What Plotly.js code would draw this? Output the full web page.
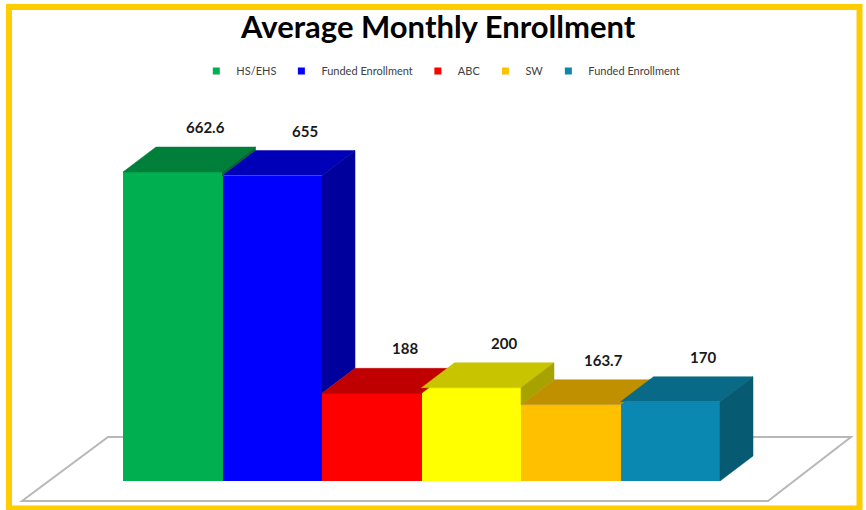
<!DOCTYPE html>
<html>
<head>
<meta charset="utf-8">
<script src="https://cdn.plot.ly/plotly-3.0.1.min.js"></script>
<style>
  html, body { margin: 0; padding: 0; background: #ffffff; }
  #chart { width: 866px; height: 510px; }
</style>
</head>
<body>
<div id="chart"></div>
<script>
// ---- data ----
const seriesNames = ['HS/EHS', 'Funded Enrollment', 'ABC', 'Funded Enrollment', 'SW', 'Funded Enrollment'];
const values = [662.6, 655, 188, 200, 163.7, 170];
const valueLabels = ['662.6', '655', '188', '200', '163.7', '170'];
const inLegend = [true, true, true, false, true, true];

// ---- styles ----
const frontColors = ['#00B050', '#0000FF', '#FF0000', '#FFFF00', '#FFC000', '#0B88B2'];
const topColors   = ['#007F3A', '#0000B8', '#C00000', '#C8C400', '#C09000', '#086A86'];
const sideColors  = ['#006A30', '#00009C', '#A00000', '#A8A200', '#A07800', '#065A72'];
const legendColors = ['#00B050', '#0000FF', '#FF0000', '#FFC000', '#FFC000', '#0B88B2'];

const W = 866, H = 510;
const PX0 = 123, BW = 99.5, BASE = 481, K = 0.4663, DXP = 33, DYP = 25;
const xmin = -0.5 - PX0 / BW, xmax = xmin + W / BW;
const ymin = -(H - BASE) / K, ymax = BASE / K;
const dx = DXP / BW, dy = DYP / K;

const idx = values.map((_, i) => i);
const traces = [];

// front faces
traces.push({
  type: 'bar', x: idx, y: values, width: values.map(() => 1),
  marker: { color: frontColors, line: { width: 0 } },
  showlegend: false, hoverinfo: 'skip'
});

// top and visible side faces, drawn left to right
values.forEach((v, i) => {
  traces.push({
    type: 'scatter', mode: 'lines', fill: 'toself',
    x: [i - 0.5, i + 0.5, i + 0.5 + dx, i - 0.5 + dx, i - 0.5],
    y: [v, v, v + dy, v + dy, v],
    fillcolor: topColors[i], line: { color: topColors[i], width: 0.5 },
    showlegend: false, hoverinfo: 'skip'
  });
  const next = i < values.length - 1 ? values[i + 1] : 0;
  if (v > next) {
    traces.push({
      type: 'scatter', mode: 'lines', fill: 'toself',
      x: [i + 0.5, i + 0.5, i + 0.5 + dx, i + 0.5 + dx, i + 0.5],
      y: [next, v, v + dy, next + dy, next],
      fillcolor: sideColors[i], line: { color: sideColors[i], width: 0.5 },
      showlegend: false, hoverinfo: 'skip'
    });
  }
});

// legend entries
values.forEach((v, i) => {
  if (!inLegend[i]) return;
  traces.push({
    type: 'scatter', mode: 'markers', x: [null], y: [null],
    name: seriesNames[i],
    marker: { symbol: 'square', size: 7, color: legendColors[i] },
    hoverinfo: 'skip'
  });
});

const annotations = values.map((v, i) => ({
  x: i + dx, y: v + dy, xref: 'x', yref: 'y',
  text: valueLabels[i], showarrow: false,
  yanchor: 'middle', yshift: 20,
  font: { family: 'Lato, "Liberation Sans", sans-serif', size: 15, color: '#1a1a1a', weight: 'bold' }
}));

const px = (p) => p / W;
const py = (p) => 1 - p / H;

const shapes = [
  { // floor
    type: 'path', xref: 'paper', yref: 'paper', layer: 'below',
    path: `M ${px(22)} ${py(501)} L ${px(768)} ${py(501)} L ${px(851)} ${py(437)} L ${px(108)} ${py(437)} Z`,
    line: { color: '#B8B8B8', width: 2 }, fillcolor: 'rgba(0,0,0,0)'
  },
  { // border
    type: 'rect', xref: 'paper', yref: 'paper', layer: 'above',
    x0: px(9), x1: px(859.5), y0: py(508.5), y1: py(7),
    line: { color: '#FFCC00', width: 6 }, fillcolor: 'rgba(0,0,0,0)'
  }
];

const layout = {
  width: W, height: H,
  margin: { l: 0, r: 0, t: 0, b: 0 },
  paper_bgcolor: '#ffffff', plot_bgcolor: '#ffffff',
  title: {
    text: '<b>Average Monthly Enrollment</b>',
    x: 0.506, xanchor: 'center', y: py(27), yanchor: 'middle', xref: 'paper', yref: 'paper',
    font: { family: 'Lato, "Liberation Sans", sans-serif', size: 31, color: '#000000' }
  },
  xaxis: { range: [xmin, xmax], visible: false, fixedrange: true },
  yaxis: { range: [ymin, ymax], visible: false, fixedrange: true },
  showlegend: true,
  legend: {
    orientation: 'h', x: 0.509, xanchor: 'center', y: py(71), yanchor: 'middle',
    font: { family: 'Lato, "Liberation Sans", sans-serif', size: 11, color: '#404040' },
    bgcolor: 'rgba(0,0,0,0)', itemwidth: 30
  },
  annotations: annotations,
  shapes: shapes,
  bargap: 0
};

Plotly.newPlot('chart', traces, layout, { displayModeBar: false, staticPlot: true });
</script>
</body>
</html>
